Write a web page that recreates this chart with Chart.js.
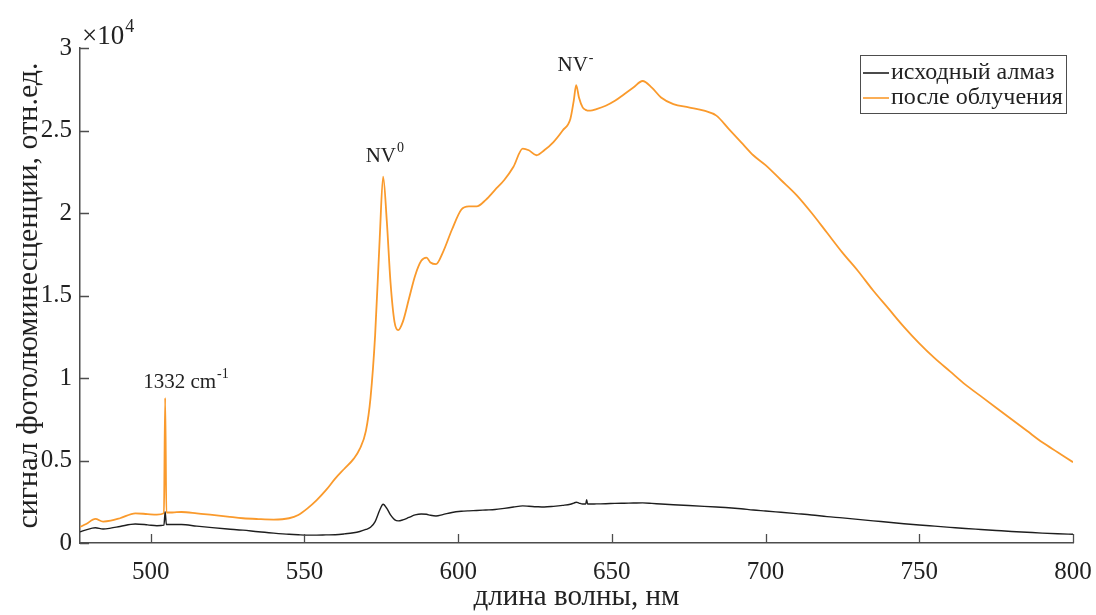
<!DOCTYPE html>
<html>
<head>
<meta charset="utf-8">
<script src="https://cdn.jsdelivr.net/npm/chart.js@4"></script>
<style>
  html, body { margin: 0; padding: 0; background: #fff; }
  #wrap { width: 1096px; height: 615px; position: relative; }
</style>
</head>
<body>
<div id="wrap"><canvas id="plChart"></canvas></div>
<script>
// длина волны, нм
const wavelengths = [477, 479, 482, 484.5, 487, 490, 495, 499, 502, 504.3, 504.7, 505.1, 507, 510, 515, 520, 525, 530, 535, 540,
  545, 548, 551, 554, 557, 560, 563, 566, 568, 570, 571.5, 573, 574.5, 575.6, 576.8, 578, 579.3, 580.5, 582, 584,
  586, 588, 589.7, 591, 592.8, 595, 598, 601, 603.5, 606, 609, 612, 615, 618, 621, 623, 625.5, 628, 631, 634,
  636.5, 637.6, 638.4, 639.3, 640.5, 641.5, 641.8, 642.1, 643, 645, 648, 651, 654, 657, 660, 663, 666, 670, 675, 680, 684, 688,
  692, 696, 700, 705, 710, 715, 720, 725, 730, 735, 740, 745, 750, 755, 760, 765, 770, 775, 780, 785, 790, 795, 800];

// исходный алмаз
const pristine = [670, 800, 920, 850, 900, 1000, 1150, 1100, 1050, 1080, 1900, 1120, 1120, 1120, 1020, 930, 850, 780, 680, 600,
  530, 500, 480, 480, 490, 500, 550, 620, 700, 820, 950, 1300, 2000, 2350, 2100, 1700, 1420, 1340, 1400, 1550,
  1700, 1760, 1740, 1680, 1640, 1720, 1850, 1920, 1950, 1970, 2000, 2030, 2100, 2180, 2250, 2230, 2200, 2180, 2220, 2280,
  2350, 2420, 2470, 2420, 2360, 2360, 2620, 2360, 2360, 2370, 2380, 2400, 2410, 2420, 2430, 2400, 2360, 2320, 2270, 2220, 2180, 2140,
  2080, 2000, 1940, 1860, 1780, 1700, 1600, 1520, 1430, 1340, 1260, 1170, 1090, 1020, 950, 880, 820, 760, 700, 650, 600, 560, 530];

// после облучения
const irradiated = [970, 1150, 1460, 1300, 1350, 1500, 1800, 1750, 1720, 1800, 8800, 1850, 1850, 1880, 1800, 1700, 1600, 1500, 1450, 1420,
  1500, 1700, 2100, 2600, 3200, 3900, 4500, 5100, 5700, 6800, 8800, 12600, 18500, 22200, 19500, 15800, 13400, 12900, 13400, 14800,
  16200, 17100, 17300, 17000, 16900, 17600, 19000, 20200, 20400, 20400, 20800, 21400, 22000, 22800, 23900, 23800, 23500, 23800, 24300, 25000,
  25700, 26800, 27750, 27000, 26400, 26250, 26230, 26200, 26200, 26300, 26500, 26800, 27200, 27600, 28000, 27600, 27000, 26600, 26400, 26200, 25900, 25100,
  24300, 23500, 22900, 22000, 21100, 20000, 18800, 17600, 16500, 15300, 14200, 13100, 12100, 11200, 10400, 9600, 8900, 8200, 7500, 6800, 6100, 5500, 4900];

const xTicks = [500, 550, 600, 650, 700, 750, 800];
const yTicks = [0, 5000, 10000, 15000, 20000, 25000, 30000];
const yTickLabels = ['0', '0.5', '1', '1.5', '2', '2.5', '3'];

const FONT = "'Liberation Serif', 'Times New Roman', serif";
const INK = '#222';
const AXIS = '#4d4d4d';

function toPoints(ys) {
  return wavelengths.map((w, i) => ({ x: w, y: ys[i] }));
}

// подпись с верхним индексом
function supText(ctx, x, y, main, sup, size, align) {
  ctx.font = size + 'px ' + FONT;
  const w1 = ctx.measureText(main).width;
  ctx.font = Math.round(size * 0.68) + 'px ' + FONT;
  const w2 = ctx.measureText(sup).width;
  let left = x;
  if (align === 'center') left = x - (w1 + w2) / 2;
  ctx.font = size + 'px ' + FONT;
  ctx.fillText(main, left, y);
  ctx.font = Math.round(size * 0.68) + 'px ' + FONT;
  ctx.fillText(sup, left + w1 + 1, y - size * 0.45);
}

const decorations = {
  id: 'decorations',
  afterDraw(chart) {
    const ctx = chart.ctx;
    const xs = chart.scales.x, ys = chart.scales.y;
    const area = chart.chartArea;
    ctx.save();

    // тики внутрь
    ctx.strokeStyle = AXIS;
    ctx.lineWidth = 1.3;
    ctx.beginPath();
    xTicks.forEach(t => {
      const px = Math.round(xs.getPixelForValue(t)) + 0.5;
      ctx.moveTo(px, area.bottom);
      ctx.lineTo(px, area.bottom - 9);
    });
    yTicks.forEach(t => {
      const py = Math.round(ys.getPixelForValue(t)) + 0.5;
      ctx.moveTo(area.left, py);
      ctx.lineTo(area.left + 9, py);
    });
    ctx.stroke();

    ctx.fillStyle = INK;
    ctx.textBaseline = 'alphabetic';
    ctx.textAlign = 'left';

    // множитель оси
    supText(ctx, area.left + 2, area.top - 4, '\u00d710', '4', 27, 'left');

    // пики
    supText(ctx, xs.getPixelForValue(576), ys.getPixelForValue(22200) - 15, 'NV', '0', 21, 'center');
    supText(ctx, xs.getPixelForValue(638), ys.getPixelForValue(27750) - 14, 'NV', '-', 21, 'center');
    supText(ctx, xs.getPixelForValue(504.7) - 22, ys.getPixelForValue(8800) - 10, '1332 cm', '-1', 21, 'left');

    // легенда
    const lx = 860, ly = 55, lw = 206, lh = 58;
    ctx.fillStyle = '#fff';
    ctx.fillRect(lx, ly, lw, lh);
    ctx.strokeStyle = AXIS;
    ctx.lineWidth = 1;
    ctx.strokeRect(lx + 0.5, ly + 0.5, lw, lh);
    chart.data.datasets.forEach((ds, i) => {
      const cy = ly + 18 + i * 25;
      ctx.strokeStyle = ds.borderColor;
      ctx.lineWidth = 1.6;
      ctx.beginPath();
      ctx.moveTo(lx + 3, cy);
      ctx.lineTo(lx + 29, cy);
      ctx.stroke();
      ctx.fillStyle = INK;
      ctx.font = '24px ' + FONT;
      ctx.textBaseline = 'middle';
      ctx.fillText(ds.label, lx + 31, cy);
    });
    ctx.restore();
  }
};

new Chart(document.getElementById('plChart'), {
  type: 'line',
  data: {
    datasets: [
      {
        label: 'исходный алмаз',
        data: toPoints(pristine),
        borderColor: '#1e1e1e',
        borderWidth: 1.4,
        pointRadius: 0,
        cubicInterpolationMode: 'monotone'
      },
      {
        label: 'после облучения',
        data: toPoints(irradiated),
        borderColor: '#FA9A2C',
        borderWidth: 1.8,
        pointRadius: 0,
        cubicInterpolationMode: 'monotone'
      }
    ]
  },
  options: {
    responsive: true,
    maintainAspectRatio: false,
    animation: false,
    layout: { padding: { top: 48, right: 23, left: 0, bottom: 0 } },
    plugins: {
      legend: { display: false },
      tooltip: { enabled: false }
    },
    scales: {
      x: {
        type: 'linear',
        min: 477,
        max: 800,
        afterBuildTicks: s => { s.ticks = xTicks.map(v => ({ value: v })); },
        afterFit: s => { s.height = 72; s.paddingLeft = 0; s.paddingRight = 0; },
        grid: { display: false, drawTicks: false },
        border: { display: true, color: AXIS, width: 1.5 },
        ticks: {
          color: INK,
          padding: 14,
          maxRotation: 0,
          font: { family: FONT, size: 25 },
          callback: v => String(v)
        },
        title: {
          display: true,
          text: 'длина волны, нм',
          color: INK,
          padding: { top: 0, bottom: 0 },
          font: { family: FONT, size: 29 }
        }
      },
      y: {
        min: 0,
        max: 30000,
        afterBuildTicks: s => { s.ticks = yTicks.map(v => ({ value: v })); },
        afterFit: s => { s.width = 80; s.paddingTop = 0; s.paddingBottom = 0; },
        grid: { display: false, drawTicks: false },
        border: { display: true, color: AXIS, width: 1.5 },
        ticks: {
          color: INK,
          padding: 8,
          font: { family: FONT, size: 25 },
          callback: v => yTickLabels[yTicks.indexOf(v)]
        },
        title: {
          display: true,
          text: 'сигнал фотолюминесценции, отн.ед.',
          color: INK,
          padding: { top: 11, bottom: 0 },
          font: { family: FONT, size: 30 }
        }
      }
    }
  },
  plugins: [decorations]
});
</script>
</body>
</html>
